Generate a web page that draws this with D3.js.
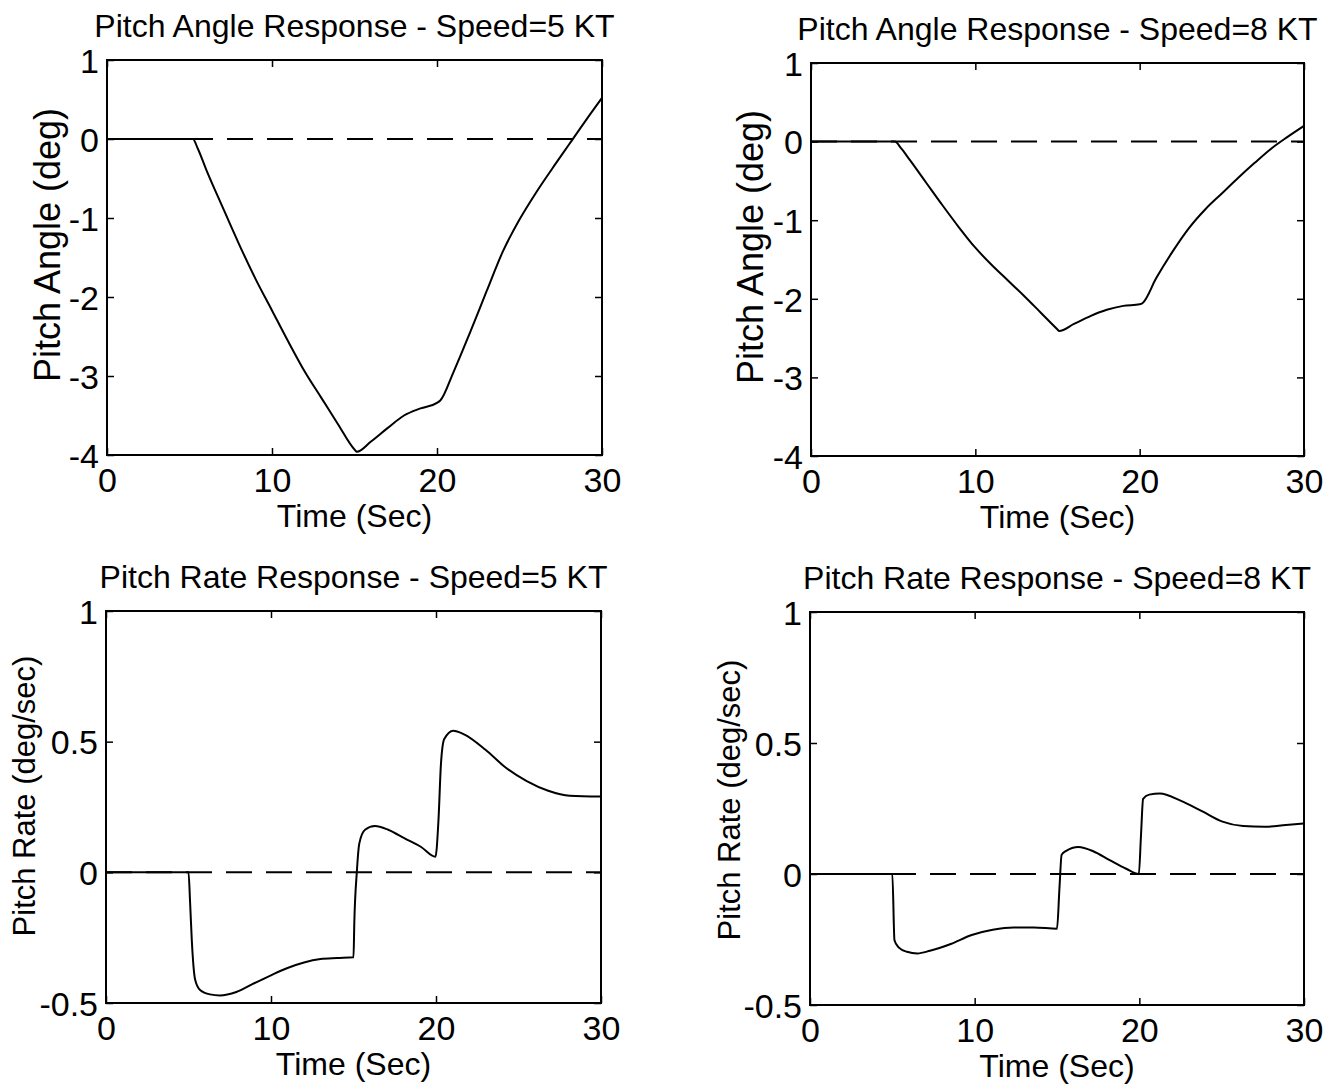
<!DOCTYPE html>
<html>
<head>
<meta charset="utf-8">
<script src="https://cdn.jsdelivr.net/npm/d3@7"></script>
<style>
  html, body { margin: 0; padding: 0; background: #fff; }
  svg text { font-family: "Liberation Sans", Arial, Helvetica, sans-serif; fill: #000; }
</style>
</head>
<body>
<svg id="chart" width="1335" height="1085"></svg>
<script>
// ---------- Data ----------
const xTicks = [0, 10, 20, 30];
const angleTicks = [-4, -3, -2, -1, 0, 1];
const rateTicks = [-0.5, 0, 0.5, 1];

const titles = [
  "Pitch Angle Response - Speed=5 KT",
  "Pitch Angle Response - Speed=8 KT",
  "Pitch Rate Response - Speed=5 KT",
  "Pitch Rate Response - Speed=8 KT"
];
const xLabel = "Time (Sec)";
const yLabels = ["Pitch Angle (deg)", "Pitch Angle (deg)", "Pitch Rate (deg/sec)", "Pitch Rate (deg/sec)"];

// Pitch angle, 5 KT
const angle5T = [0, 5, 5.2, 5.5, 6, 7, 8, 9, 10, 11, 12, 13, 14, 15, 15.15, 16, 17, 18, 19, 20, 20.2, 21, 22, 23, 24, 25, 26, 27, 28, 29, 30];
const angle5V = [0, 0, 0, -0.12, -0.38, -0.86, -1.33, -1.77, -2.17, -2.57, -2.95, -3.28, -3.61, -3.93, -3.96, -3.83, -3.66, -3.5, -3.41, -3.34, -3.31, -2.95, -2.45, -1.93, -1.42, -1.02, -0.68, -0.37, -0.07, 0.23, 0.52];

// Pitch angle, 8 KT
const angle8T = [0, 5, 5.1, 5.5, 6, 7, 8, 9, 10, 11, 12, 13, 14, 15, 15.1, 16, 17, 18, 19, 20, 20.2, 21, 22, 23, 24, 25, 26, 27, 28, 29, 30];
const angle8V = [0, 0, 0, -0.09, -0.23, -0.52, -0.81, -1.09, -1.35, -1.57, -1.77, -1.97, -2.18, -2.39, -2.41, -2.32, -2.22, -2.14, -2.09, -2.07, -2.05, -1.74, -1.4, -1.1, -0.86, -0.66, -0.46, -0.27, -0.09, 0.06, 0.2];

// Pitch rate, 5 KT
const rate5T = [0, 5, 5.1, 5.2, 5.4, 5.7, 6.3, 6.9, 7.9, 8.9, 10, 11, 12, 13, 14, 15, 15.05, 15.2, 15.35, 15.7, 16.3, 17.1, 18.1, 19.1, 19.97, 20.15, 20.3, 20.5, 21.05, 21.7, 23, 24.2, 25.5, 26.8, 28.1, 30];
const rate5V = [0, 0, -0.12, -0.26, -0.41, -0.45, -0.467, -0.471, -0.458, -0.427, -0.394, -0.366, -0.345, -0.332, -0.328, -0.325, -0.19, 0, 0.11, 0.163, 0.177, 0.163, 0.13, 0.097, 0.06, 0.2, 0.415, 0.51, 0.542, 0.528, 0.469, 0.402, 0.349, 0.312, 0.293, 0.29];

// Pitch rate, 8 KT
const rate8T = [0, 5, 5.13, 5.38, 5.89, 6.52, 7.28, 8.55, 9.82, 11.1, 12.36, 13.6, 15, 15.15, 15.28, 15.53, 16.3, 17.2, 18.2, 19.2, 19.97, 20.1, 20.23, 20.6, 21.25, 22.5, 23.8, 25.05, 26.3, 27.6, 28.9, 30];
const rate8V = [0, 0, -0.253, -0.28, -0.297, -0.303, -0.293, -0.267, -0.233, -0.213, -0.204, -0.204, -0.209, -0.053, 0.073, 0.087, 0.103, 0.087, 0.053, 0.02, 0.0, 0.147, 0.287, 0.303, 0.307, 0.28, 0.24, 0.2, 0.183, 0.18, 0.187, 0.193];

const seriesT = [angle5T, angle8T, rate5T, rate8T];
const seriesV = [angle5V, angle8V, rate5V, rate8V];
const yTickSets = [angleTicks, angleTicks, rateTicks, rateTicks];

// ---------- Layout ----------
const panels = [
  { x0: 107, x1: 602, y0: 60, y1: 455, ylabX: 60, ylabY: 245, ylabFS: 36 },
  { x0: 811, x1: 1304, y0: 63, y1: 456, ylabX: 763, ylabY: 247, ylabFS: 36 },
  { x0: 106, x1: 601, y0: 611, y1: 1003, ylabX: 35, ylabY: 796, ylabFS: 31 },
  { x0: 810, x1: 1304, y0: 612, y1: 1005, ylabX: 740, ylabY: 800, ylabFS: 31 }
];

const svg = d3.select("#chart");
const TICK_FS = 34, TITLE_FS = 32, XLAB_FS = 32;
const tickLen = 7;

panels.forEach((p, i) => {
  const yt = yTickSets[i];
  const x = d3.scaleLinear().domain([0, 30]).range([p.x0, p.x1]);
  const y = d3.scaleLinear().domain([d3.min(yt), d3.max(yt)]).range([p.y1, p.y0]);
  const g = svg.append("g");
  const fmt = d => String(d);

  const bottom = g.append("g").attr("transform", `translate(0,${p.y1})`)
    .call(d3.axisBottom(x).tickValues(xTicks).tickFormat(fmt).tickSizeInner(-tickLen).tickSizeOuter(0).tickPadding(13));
  const left = g.append("g").attr("transform", `translate(${p.x0},0)`)
    .call(d3.axisLeft(y).tickValues(yt).tickFormat(fmt).tickSizeInner(-tickLen).tickSizeOuter(0).tickPadding(8));
  const top = g.append("g").attr("transform", `translate(0,${p.y0})`)
    .call(d3.axisTop(x).tickValues(xTicks).tickFormat("").tickSizeInner(-tickLen).tickSizeOuter(0));
  const right = g.append("g").attr("transform", `translate(${p.x1},0)`)
    .call(d3.axisRight(y).tickValues(yt).tickFormat("").tickSizeInner(-tickLen).tickSizeOuter(0));

  [bottom, left, top, right].forEach(a => {
    a.select(".domain").remove();
    a.selectAll(".tick line").attr("stroke", "#000").attr("stroke-width", 1.5);
    a.selectAll(".tick text").attr("font-size", TICK_FS).attr("font-family", "Liberation Sans, Arial, sans-serif").attr("fill", "#000");
  });
  bottom.selectAll(".tick text").attr("dy", "0.71em");
  left.selectAll(".tick text").attr("dy", "0.36em");

  // box
  g.append("rect").attr("x", p.x0).attr("y", p.y0)
    .attr("width", p.x1 - p.x0).attr("height", p.y1 - p.y0)
    .attr("fill", "none").attr("stroke", "#000").attr("stroke-width", 2);

  // dashed zero reference
  g.append("line").attr("x1", x(0)).attr("x2", x(30)).attr("y1", y(0)).attr("y2", y(0))
    .attr("stroke", "#000").attr("stroke-width", 2).attr("stroke-dasharray", "26,14");

  // response curve
  const pts = seriesT[i].map((t, k) => [t, seriesV[i][k]]);
  const line = d3.line().x(d => x(d[0])).y(d => y(d[1])).curve(d3.curveMonotoneX);
  g.append("path").datum(pts).attr("d", line)
    .attr("fill", "none").attr("stroke", "#000").attr("stroke-width", 2).attr("stroke-linejoin", "round");

  // title
  g.append("text").attr("x", (p.x0 + p.x1) / 2).attr("y", p.y0 - 23)
    .attr("text-anchor", "middle").attr("font-size", TITLE_FS).text(titles[i]);

  // x label
  g.append("text").attr("x", (p.x0 + p.x1) / 2).attr("y", p.y1 + 72)
    .attr("text-anchor", "middle").attr("font-size", XLAB_FS).text(xLabel);

  // y label
  g.append("text").attr("transform", `translate(${p.ylabX},${p.ylabY}) rotate(-90)`)
    .attr("text-anchor", "middle").attr("font-size", p.ylabFS).text(yLabels[i]);
});
</script>
</body>
</html>
